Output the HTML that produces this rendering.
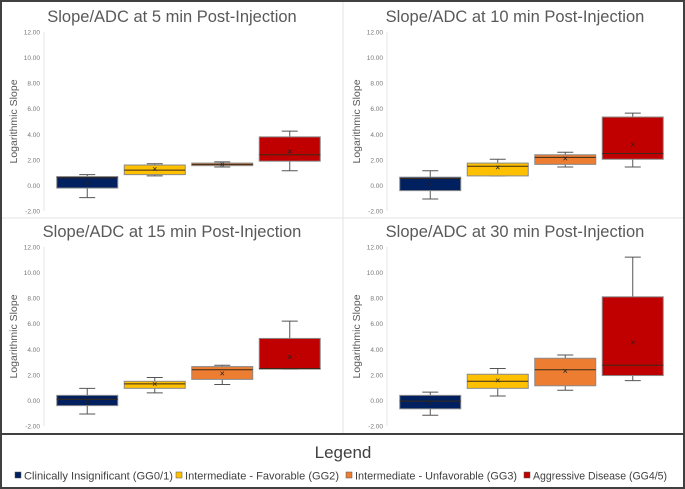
<!DOCTYPE html>
<html><head><meta charset="utf-8"><style>
body{margin:0;background:#fff;font-family:"Liberation Sans",sans-serif}
#wrap{position:relative;width:685px;height:489px;overflow:hidden}
</style></head><body>
<div id="wrap">
<svg id="svg" width="685" height="489"></svg>
</div>
<script>
const titles=["Slope/ADC at 5 min Post-Injection","Slope/ADC at 10 min Post-Injection","Slope/ADC at 15 min Post-Injection","Slope/ADC at 30 min Post-Injection"];
const categories=["Clinically Insignificant (GG0/1)","Intermediate - Favorable (GG2)","Intermediate - Unfavorable (GG3)","Aggressive Disease (GG4/5)"];
const tickLabels=["-2.00","0.00","2.00","4.00","6.00","8.00","10.00","12.00"];
const tickValues=[-2,0,2,4,6,8,10,12];
// [min,q1,median,q3,max,mean] per category
const stats5=[[-0.95,-0.2,0.6,0.7,0.85,0.2],[0.75,0.85,1.2,1.6,1.7,1.3],[1.45,1.55,1.65,1.75,1.85,1.65],[1.15,1.9,2.4,3.8,4.25,2.65]];
const stats10=[[-1.05,-0.4,0.55,0.65,1.15,0.1],[0.75,0.75,1.5,1.75,2.05,1.4],[1.45,1.65,2.2,2.4,2.6,2.1],[1.45,2.05,2.5,5.35,5.65,3.2]];
const stats15=[[-1.05,-0.4,0.1,0.4,0.95,-0.1],[0.6,0.95,1.3,1.5,1.8,1.3],[1.25,1.65,2.4,2.65,2.75,2.1],[2.45,2.45,2.5,4.85,6.2,3.4]];
const stats30=[[-1.15,-0.65,-0.05,0.4,0.65,-0.2],[0.35,0.95,1.5,2.05,2.5,1.55],[0.8,1.15,2.4,3.3,3.55,2.3],[1.55,1.95,2.75,8.1,11.2,4.55]];
const allStats=[stats5,stats10,stats15,stats30];
const fills=["#002060","#FFC000","#ED7D31","#C00000"];
const NS="http://www.w3.org/2000/svg";
const svg=document.getElementById('svg');
function mk(tag,attrs,parent,text){const e=document.createElementNS(NS,tag);for(const k in attrs)e.setAttribute(k,attrs[k]);if(text!==undefined)e.textContent=text;(parent||svg).appendChild(e);return e;}
const origins=[[0,0],[343,0],[0,215],[343,215]];
origins.forEach((o,p)=>{
  const g=mk('g',{transform:`translate(${o[0]},${o[1]})`});
  
  
  const y=v=>185.5-(v*12.8);
  const x=i=>53.5+67.5*(i+0.5);
  const t=mk('text',{x:172,y:22,'text-anchor':'middle','font-size':'16.5','fill':'#595959'},g,titles[p]);
  
  
  const yt=mk('text',{transform:`translate(17,${y(5)}) rotate(-90)`,'text-anchor':'middle','font-size':'10.5','fill':'#595959'},g,'Logarithmic Slope');
  
  
  mk('line',{x1:44,x2:44,y1:y(12),y2:y(-2),stroke:'#e6e6e6'},g);
  tickValues.forEach((v,i)=>{
    const tl=mk('text',{x:40,y:y(v)+2.5,'text-anchor':'end','font-size':'6.5','fill':'#777'},g,tickLabels[i]);
    
    
  });
  allStats[p].forEach((s,i)=>{
    const cx=x(i),w=61;
    const bg=mk('g',{},g);
    
    
    mk('line',{x1:cx,x2:cx,y1:y(s[4]),y2:y(s[3]),stroke:'#555','stroke-width':1},bg);
    mk('line',{x1:cx,x2:cx,y1:y(s[1]),y2:y(s[0]),stroke:'#555','stroke-width':1},bg);
    mk('line',{x1:cx-8,x2:cx+8,y1:y(s[4]),y2:y(s[4]),stroke:'#555'},bg);
    mk('line',{x1:cx-8,x2:cx+8,y1:y(s[0]),y2:y(s[0]),stroke:'#555'},bg);
    mk('rect',{x:cx-w/2,y:y(s[3]),width:w,height:Math.max(1,y(s[1])-y(s[3])),fill:fills[i],stroke:'#8a8a8a','stroke-width':1},bg);
    mk('line',{x1:cx-w/2,x2:cx+w/2,y1:y(s[2]),y2:y(s[2]),stroke:'#3a2a1a','stroke-width':1},bg);
    mk('text',{x:cx,y:y(s[5])+3,'text-anchor':'middle','font-size':'9','fill':'#222'},bg,'×');
  });
});
mk('line',{x1:343,x2:343,y1:0,y2:434,stroke:'#e3e3e3'});
mk('line',{x1:0,x2:685,y1:218,y2:218,stroke:'#e3e3e3'});
mk('rect',{x:1,y:1,width:683,height:487,fill:'none',stroke:'#404040','stroke-width':2});
mk('line',{x1:0,x2:685,y1:434,y2:434,stroke:'#404040','stroke-width':2});
const lt=mk('text',{x:343,y:458,'text-anchor':'middle','font-size':'17','fill':'#404040'},svg,'Legend');


const lx=[15,176,346,524];
const lw=[149,154,162,134];
categories.forEach((c,i)=>{
  const g=mk('g',{});
  
  
  mk('rect',{x:lx[i],y:472,width:6,height:6,fill:fills[i],stroke:'#555','stroke-width':0.5},g);
  mk('text',{x:lx[i]+9,y:479.5,'font-size':'11','fill':'#404040',textLength:lw[i],lengthAdjust:'spacingAndGlyphs'},g,c);
});
</script>
</body></html>
